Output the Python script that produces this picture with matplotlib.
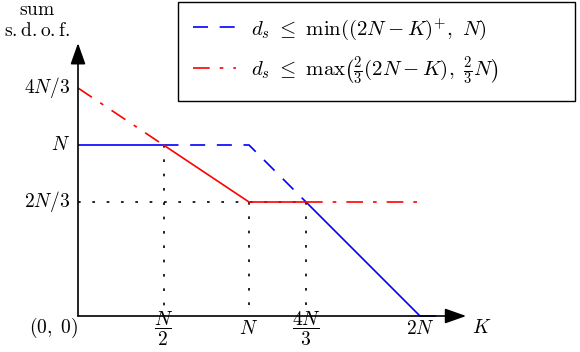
import numpy as np
import matplotlib.pyplot as plt

plt.rcParams['mathtext.fontset'] = 'cm'
plt.rcParams['font.family'] = 'serif'
plt.rcParams['font.serif'] = ['DejaVu Serif']

# everything in units of N
k_ticks = [0.5, 1.0, 4 / 3, 2.0]
k_labels = [r'$\dfrac{N}{2}$', r'$N$', r'$\dfrac{4N}{3}$', r'$2N$']
d_ticks = [4 / 3, 1.0, 2 / 3]
d_labels = [r'$4N/3$', r'$N$', r'$2N/3$']

# blue bound: min((2N-K)^+, N)
blue_a_k = [0.0, 0.5]
blue_a_d = [1.0, 1.0]
blue_dash_k = [0.5, 1.0, 4 / 3]
blue_dash_d = [1.0, 1.0, 2 / 3]
blue_b_k = [4 / 3, 2.0, 2.09]
blue_b_d = [2 / 3, 0.0, 0.0]

# red bound: max(2/3(2N-K), 2/3 N)
red_dd_a_k = [0.0, 0.5]
red_dd_a_d = [4 / 3, 1.0]
red_k = [0.5, 1.0, 4 / 3]
red_d = [1.0, 2 / 3, 2 / 3]
red_dd_b_k = [4 / 3, 2.0]
red_dd_b_d = [2 / 3, 2 / 3]

# dotted guide lines
guide_h_k = [0.0, 4 / 3]
guide_h_d = [2 / 3, 2 / 3]
guide_v_k = [0.5, 1.0, 4 / 3]
guide_v_top = [1.0, 2 / 3, 2 / 3]

blue = '#0000ff'
red = '#ff0000'
lw = 1.2
dash_blue = (0, (9, 7))
dash_red = (0, (10, 6, 2.2, 6))
dots = (0, (1.6, 7))

fig = plt.figure(figsize=(5.8, 3.52), dpi=100)
ax = fig.add_axes([0, 0, 1, 1])
px = 171.0
ax.set_xlim(-78 / px, 502 / px)
ax.set_ylim(-36 / px, 316 / px)
ax.axis('off')

# guides
ax.plot(guide_h_k, guide_h_d, color='black', lw=1.2, linestyle=dots)
for k, top in zip(guide_v_k, guide_v_top):
    ax.plot([k, k], [top, 0], color='black', lw=1.2, linestyle=dots)

# curves
ax.plot(blue_a_k, blue_a_d, color=blue, lw=lw, solid_capstyle='butt')
l_blue, = ax.plot(blue_dash_k, blue_dash_d, color=blue, lw=lw, linestyle=dash_blue,
                  label=r'$d_s\ \leq\ \min((2N-K)^{+},\ N)$')
ax.plot(blue_b_k, blue_b_d, color=blue, lw=lw)
l_red, = ax.plot(red_dd_a_k, red_dd_a_d, color=red, lw=lw, linestyle=dash_red,
                 label=r'$d_s\ \leq\ \max\left(\frac{2}{3}(2N-K),\ \frac{2}{3}N\right)$')
ax.plot(red_k, red_d, color=red, lw=lw)
ax.plot(red_dd_b_k, red_dd_b_d, color=red, lw=lw, linestyle=dash_red)

# axes with arrows
arrow = dict(arrowstyle='-|>,head_length=0.65,head_width=0.23', mutation_scale=20,
             lw=1.2, color='black', shrinkA=0, shrinkB=0)
ax.annotate('', xy=(2.27, 0), xytext=(0, 0), arrowprops=arrow)
ax.annotate('', xy=(0, 1.596), xytext=(0, 0), arrowprops=arrow)

fs = 14
for k, lab in zip(k_ticks, k_labels):
    ax.text(k, -18 / px, lab, ha='center', va='baseline', fontsize=fs)
ax.text(-24 / px, -17 / px, r'$(0,\ 0)$', ha='center', va='baseline', fontsize=fs)
ax.text(404 / px, -17 / px, r'$K$', ha='center', va='baseline', fontsize=fs)
for d, lab in zip(d_ticks, d_labels):
    ax.text(-8 / px, d, lab, ha='right', va='center', fontsize=fs)
ax.text(-41 / px, 306 / px, r'$\mathrm{sum}$', ha='center', va='center', fontsize=fs)
ax.text(-41 / px, 285 / px, r'$\mathrm{s.d.o.f.}$', ha='center', va='center', fontsize=fs)

leg = ax.legend(handles=[l_blue, l_red], loc='upper left',
                bbox_to_anchor=(178 / 580, 0, 397 / 580, 350 / 352),
                bbox_transform=fig.transFigure, mode='expand', borderaxespad=0,
                fancybox=False, edgecolor='black', framealpha=1, fontsize=15,
                handlelength=2.1, handletextpad=0.7, borderpad=0.7, labelspacing=0.6)
leg.get_frame().set_linewidth(1.0)

fig.savefig('out.png', dpi=100)
